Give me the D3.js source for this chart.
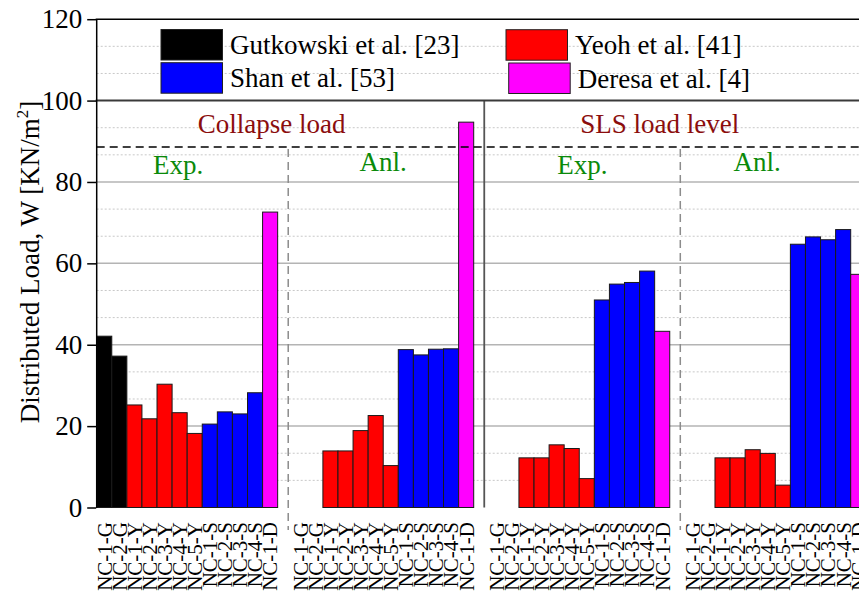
<!DOCTYPE html>
<html><head><meta charset="utf-8">
<script src="https://cdn.jsdelivr.net/npm/d3@7/dist/d3.min.js"></script>
<style>body{margin:0;background:#fff;}svg{display:block;font-family:"Liberation Serif","Times New Roman",serif;}</style>
</head><body><svg id="c" width="859" height="592"></svg>
<script>
const specimens = ["NC-1-G","NC-2-G","NC-1-Y","NC-2-Y","NC-3-Y","NC-4-Y","NC-5-Y","NC-1-S","NC-2-S","NC-3-S","NC-4-S","NC-1-D"];
const study = ["G","G","Y","Y","Y","Y","Y","S","S","S","S","D"];
const groups = ["Collapse Exp.","Collapse Anl.","SLS Exp.","SLS Anl."];
const collapseExp = [42.1, 37.2, 25.2, 21.8, 30.3, 23.3, 18.2, 20.5, 23.5, 23.0, 28.2, 72.6];
const collapseAnl = [0, 0, 13.9, 13.9, 18.9, 22.6, 10.3, 38.8, 37.5, 38.9, 39.0, 94.7];
const slsExp = [0, 0, 12.2, 12.2, 15.4, 14.5, 7.1, 51.0, 54.9, 55.3, 58.1, 43.3];
const slsAnl = [0, 0, 12.2, 12.2, 14.2, 13.3, 5.5, 64.7, 66.5, 65.8, 68.3, 57.3];
const yTicks = [0, 20, 40, 60, 80, 100, 120];
const legendItems = [
  {key:"G", label:"Gutkowski et al. [23]"},
  {key:"S", label:"Shan et al. [53]"},
  {key:"Y", label:"Yeoh et al. [41]"},
  {key:"D", label:"Deresa et al. [4]"}
];
const refLoad = 88.6;

const colors = {G:"#000000", Y:"#ff0000", S:"#0000ff", D:"#ff00ff"};
const seriesList = [collapseExp, collapseAnl, slsExp, slsAnl];

// build slots: 12 per group with one empty slot between groups
const rows = [];
seriesList.forEach((vals, g) => {
  vals.forEach((v, i) => rows.push({slot: g*13 + i, group: g, label: specimens[i], study: study[i], value: v}));
});
const nSlots = 4*13 - 1;

const svg = d3.select("#c");
const x0 = 96.7, step = 15.08;
const x = d3.scaleBand().domain(d3.range(nSlots)).range([x0, x0 + nSlots*step]).padding(0);
const y = d3.scaleLinear().domain([0, 120]).range([507.5, 19.2]);
const bw = x.bandwidth();
const W = 859;

// minor dotted gridlines (every 20/3)
const minor = d3.range(1, 18).map(k => k*20/3).filter(v => Math.abs(v/20 - Math.round(v/20)) > 0.01);
svg.append("g").selectAll("line").data(minor).join("line")
  .attr("x1", x0).attr("x2", W).attr("y1", d => y(d)).attr("y2", d => y(d))
  .attr("stroke", "#c8c8c8").attr("stroke-width", 1).attr("stroke-dasharray", "2,2");
// major gridlines
svg.append("g").selectAll("line").data([20, 40, 60, 80]).join("line")
  .attr("x1", x0).attr("x2", W).attr("y1", d => y(d)).attr("y2", d => y(d))
  .attr("stroke", "#b4b4b4").attr("stroke-width", 1.5);

// bars
svg.append("g").selectAll("rect").data(rows.filter(d => d.value > 0)).join("rect")
  .attr("x", d => x(d.slot)).attr("width", bw)
  .attr("y", d => y(d.value)).attr("height", d => y(0) - y(d.value))
  .attr("fill", d => colors[d.study]).attr("stroke", "#1a1a1a").attr("stroke-width", 1);

// separators
const sepX = s => x(s) + bw*0.7;
[12, 38].forEach(s => {
  svg.append("line").attr("x1", sepX(s)).attr("x2", sepX(s)).attr("y1", y(refLoad) + 2).attr("y2", 530)
    .attr("stroke", "#8c8c8c").attr("stroke-width", 1.5).attr("stroke-dasharray", "8,5");
});
svg.append("line").attr("x1", sepX(25)).attr("x2", sepX(25)).attr("y1", y(100)).attr("y2", y(0))
  .attr("stroke", "#555").attr("stroke-width", 1.8);

// top frame and 100 line
svg.append("line").attr("x1", x0 - 1).attr("x2", W).attr("y1", y(120)).attr("y2", y(120))
  .attr("stroke", "#000").attr("stroke-width", 1.5);
svg.append("line").attr("x1", x0 - 1).attr("x2", W).attr("y1", y(100)).attr("y2", y(100))
  .attr("stroke", "#3a3a3a").attr("stroke-width", 2);

// reference dashed line
svg.append("line").attr("x1", x0).attr("x2", W).attr("y1", y(refLoad)).attr("y2", y(refLoad))
  .attr("stroke", "#000").attr("stroke-width", 1.5).attr("stroke-dasharray", "8,5");

// y axis
const yAxis = svg.append("g").attr("transform", `translate(${x0 - 0.5},0)`)
  .call(d3.axisLeft(y).tickValues(yTicks).tickSize(9).tickSizeOuter(0).tickPadding(5).tickFormat(d3.format("d")));
yAxis.select(".domain").attr("stroke", "#000").attr("stroke-width", 1.5);
yAxis.selectAll(".tick line").attr("stroke", "#000").attr("stroke-width", 1.5);
yAxis.selectAll(".tick text").attr("font-size", 27).attr("font-family", "Liberation Serif").attr("fill", "#000");

// y title
const yt = svg.append("text").attr("transform", "translate(39,262) rotate(-90)")
  .attr("text-anchor", "middle").attr("font-size", 27).attr("fill", "#000");
yt.append("tspan").text("Distributed Load, W [KN/m");
yt.append("tspan").text("2").attr("font-size", 17).attr("dy", -11);
yt.append("tspan").text("]").attr("dy", 11);

// x labels
svg.append("g").selectAll("text").data(rows).join("text")
  .attr("transform", d => `translate(${x(d.slot) + bw/2},522) rotate(-90)`)
  .attr("text-anchor", "end").attr("dy", "0.35em")
  .attr("font-size", 21).attr("fill", "#000").text(d => d.label);

// annotations
svg.append("text").attr("x", x(12) - 6).attr("y", 133).attr("text-anchor", "middle")
  .attr("font-size", 27).attr("fill", "#8b0d0d").text("Collapse load");
svg.append("text").attr("x", x(38) - 10).attr("y", 133).attr("text-anchor", "middle")
  .attr("font-size", 27).attr("fill", "#8b0d0d").text("SLS load level");
const subs = [{t:"Exp.", s:5.4}, {t:"Anl.", s:19}, {t:"Exp.", s:32.2}, {t:"Anl.", s:43.8}];
svg.append("g").selectAll("text").data(subs).join("text")
  .attr("x", d => x0 + d.s*step).attr("y", d => d.t === "Exp." ? 174 : 171)
  .attr("text-anchor", "middle").attr("font-size", 27).attr("fill", "#0a8a0a").text(d => d.t);

// legend
const lpos = [{x:161, y:29.5}, {x:161, y:62.7}, {x:506, y:29.7}, {x:508.7, y:63}];
const lg = svg.append("g").selectAll("g").data(legendItems).join("g")
  .attr("transform", (d, i) => `translate(${lpos[i].x},${lpos[i].y})`);
lg.append("rect").attr("width", 61.5).attr("height", 30.5)
  .attr("fill", d => colors[d.key]).attr("stroke", "#222").attr("stroke-width", 1);
lg.append("text").attr("x", 69).attr("y", 24.5).attr("font-size", 27).attr("fill", "#000").text(d => d.label);
</script>
</body></html>
